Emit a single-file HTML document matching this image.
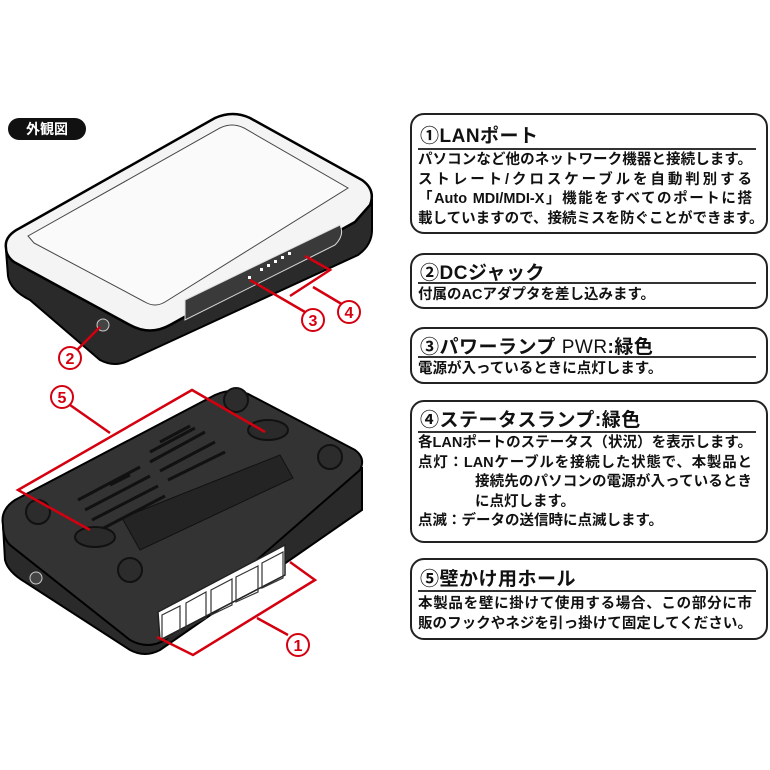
<!DOCTYPE html>
<html><head><meta charset="utf-8"><style>
body{margin:0;width:770px;height:770px;background:#fff;position:relative;overflow:hidden;font-family:"Liberation Sans","Noto Sans CJK JP",sans-serif;color:#111}
.box{position:absolute;left:410px;width:354px;border:2px solid #222;border-radius:14px;background:#fff}
.h{position:absolute;left:8px;font-size:19px;font-weight:bold;white-space:nowrap;letter-spacing:0.5px}
.ln{position:absolute;left:6px;right:10px;height:2px;background:#333}
.t{position:absolute;left:6px;width:334px;font-size:14.5px;font-weight:bold;line-height:19.5px;white-space:nowrap}
.j{text-align:justify;text-align-last:justify;text-justify:inter-character}
.tag{position:absolute;left:8px;top:118px;width:78px;height:22px;background:#111;border-radius:11px;color:#fff;font-weight:bold;font-size:14px;text-align:center;line-height:22px}
</style></head><body>
<div class="tag">外観図</div>
<svg width="400" height="770" style="position:absolute;left:0;top:0">
<path d="M6,250 L8,276 Q10,290 30,300 L100,360 Q115,368 130,360 L358,255 Q372,245 372,230 L372,200 Z" fill="#2a2a2a" stroke="#000" stroke-width="2"/>
<path d="M6,248 Q4,236 20,228 L215,118 Q233,110 250,118 L362,180 Q376,190 370,205 L355,222 L170,325 Q150,336 130,325 L14,262 Q6,256 6,248 Z" fill="#f4f4f4" stroke="#000" stroke-width="2.5"/>
<path d="M28,236 L220,128 Q232,122 244,128 L348,188 L165,302 Q155,308 145,302 L34,243 Z" fill="#fafafa" stroke="#444" stroke-width="1"/>
<path d="M185,300 L340,225 Q345,235 335,245 L185,320 Z" fill="#3a3a3a" stroke="#ddd" stroke-width="1"/>
<g fill="#fff"><rect x="248" y="276" width="3" height="3"/><rect x="260" y="268" width="3" height="3"/><rect x="267" y="264" width="3" height="3"/><rect x="274" y="260" width="3" height="3"/><rect x="281" y="256" width="3" height="3"/><rect x="288" y="252" width="3" height="3"/></g>
<circle cx="103" cy="325" r="6" fill="#444" stroke="#ccc" stroke-width="1"/>
<path d="M3,525 L5,560 Q8,572 25,582 L130,650 Q145,658 160,650 L362,510 L362,468 Z" fill="#2a2a2a" stroke="#000" stroke-width="2"/>
<path d="M3,525 Q0,510 15,500 L215,395 Q235,386 252,396 L355,450 Q366,458 360,470 L165,640 Q148,650 130,640 L10,545 Q3,538 3,525 Z" fill="#333" stroke="#000" stroke-width="2"/>
<path d="M122,518 L280,455 L293,478 L140,550 Z" fill="#242424" stroke="#111"/>
<g stroke="#111" stroke-width="3">
<line x1="78" y1="500" x2="140" y2="467"/><line x1="150" y1="462" x2="205" y2="432"/>
<line x1="85" y1="510" x2="150" y2="476"/><line x1="160" y1="471" x2="215" y2="442"/>
<line x1="92" y1="520" x2="158" y2="486"/><line x1="168" y1="480" x2="225" y2="452"/>
<line x1="100" y1="530" x2="165" y2="496"/>
<line x1="110" y1="485" x2="130" y2="475"/><line x1="150" y1="452" x2="195" y2="428"/>
<line x1="160" y1="442" x2="190" y2="426"/></g>
<g fill="#2c2c2c" stroke="#111" stroke-width="2"><circle cx="38" cy="512" r="12"/><circle cx="236" cy="400" r="12"/><circle cx="330" cy="457" r="12"/><circle cx="130" cy="570" r="12"/></g>
<ellipse cx="95" cy="537" rx="20" ry="10" fill="#2a2a2a" stroke="#111" stroke-width="2"/>
<ellipse cx="268" cy="430" rx="20" ry="10" fill="#2a2a2a" stroke="#111" stroke-width="2"/>
<circle cx="36" cy="578" r="6" fill="#444" stroke="#ccc"/>
<path d="M158,612 L285,545 L285,575 L160,640 Z" fill="#fff" stroke="#222" stroke-width="1.5"/>
<g stroke="#333" fill="none" stroke-width="1.2"><path d="M162,615 L180,606 L180,632 L162,640Z"/><path d="M186,603 L206,592 L206,618 L186,628Z"/><path d="M211,590 L232,579 L232,605 L211,615Z"/><path d="M236,577 L258,566 L258,592 L236,602Z"/><path d="M262,563 L283,552 L283,578 L262,588Z"/></g>
<g stroke="#d4000f" stroke-width="2.5" fill="none">
<line x1="75" y1="352" x2="100" y2="327"/>
<line x1="250" y1="280" x2="305" y2="312"/>
<polyline points="305,256 330,270 290,296"/><line x1="313" y1="287" x2="345" y2="306"/>
<polyline points="265,432 192,390 18,490 90,530"/><line x1="110" y1="433" x2="70" y2="405"/>
<polyline points="290,562 315,580 193,655 157,637"/><line x1="257" y1="618" x2="288" y2="635"/>
</g>
<g fill="#fff" stroke="#d4000f" stroke-width="2"><circle cx="70" cy="358" r="11"/><circle cx="313" cy="320" r="11"/><circle cx="349" cy="312" r="11"/><circle cx="62" cy="397" r="11"/><circle cx="298" cy="645" r="11"/></g>
<g fill="#d4000f" font-weight="bold" font-size="16" text-anchor="middle" font-family="Liberation Sans,sans-serif"><text x="70" y="364">2</text><text x="313" y="326">3</text><text x="349" y="318">4</text><text x="62" y="403">5</text><text x="298" y="651">1</text></g>
</svg>

<div class="box" style="top:113px;height:117px">
<div class="h" style="top:6px">①LANポート</div><div class="ln" style="top:33px"></div>
<div class="t" style="top:36px"><div class="j">パソコンなど他のネットワーク機器と接続します。</div><div class="j">ストレート/クロスケーブルを自動判別する</div><div class="j">「Auto MDI/MDI-X」機能をすべてのポートに搭</div><div class="j">載していますので、接続ミスを防ぐことができます。</div></div></div>
<div class="box" style="top:253px;height:52px">
<div class="h" style="top:3px">②DCジャック</div><div class="ln" style="top:27px"></div>
<div class="t" style="top:31px">付属のACアダプタを差し込みます。</div></div>
<div class="box" style="top:327px;height:53px">
<div class="h" style="top:3px">③パワーランプ <span style="font-weight:normal">PWR</span>:緑色</div><div class="ln" style="top:27px"></div>
<div class="t" style="top:31px">電源が入っているときに点灯します。</div></div>
<div class="box" style="top:400px;height:139px">
<div class="h" style="top:3px">④ステータスランプ:緑色</div><div class="ln" style="top:29px"></div>
<div class="t" style="top:32px"><div class="j">各LANポートのステータス（状況）を表示します。</div><div class="j">点灯：LANケーブルを接続した状態で、本製品と</div><div style="padding-left:57px" class="j">接続先のパソコンの電源が入っているとき</div><div style="padding-left:57px">に点灯します。</div><div>点滅：データの送信時に点滅します。</div></div></div>
<div class="box" style="top:558px;height:78px">
<div class="h" style="top:4px">⑤壁かけ用ホール</div><div class="ln" style="top:30px"></div>
<div class="t" style="top:35px"><div class="j">本製品を壁に掛けて使用する場合、この部分に市</div><div class="j">販のフックやネジを引っ掛けて固定してください。</div></div></div>
</body></html>
